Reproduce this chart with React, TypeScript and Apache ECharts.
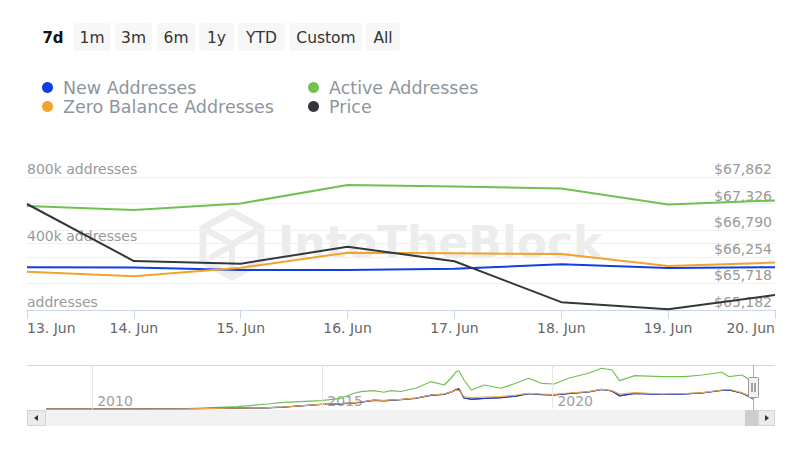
import React, { useEffect, useRef } from 'react';
import * as echarts from 'echarts';

const FONT = 'DejaVu Sans';

// Main chart (last 7 days)
const days = ['13. Jun', '14. Jun', '15. Jun', '16. Jun', '17. Jun', '18. Jun', '19. Jun', '20. Jun'];
const newAddresses = [257000, 256000, 241000, 241000, 248000, 275000, 253000, 257000];
const activeAddresses = [626000, 602000, 641000, 752000, 743000, 731000, 635000, 659000];
const zeroBalanceAddresses = [230000, 203000, 254000, 345000, 341000, 337000, 265000, 285000];
const price = [67318, 66169, 66115, 66457, 66165, 65340, 65195, 65484];

const addressTicks = [0, 400000, 800000];
const priceTicks = [65182, 65718, 66254, 66790, 67326, 67862];

const rangeButtons = ['7d', '1m', '3m', '6m', '1y', 'YTD', 'Custom', 'All'];

// Navigator (full history, decimal years; values in thousands of addresses, estimated)
const navYears = [
  2009.0, 2011.05, 2012.07, 2013.16, 2013.81, 2014.16, 2014.97, 2015.4, 2015.69, 2015.84,
  2016.12, 2016.34, 2016.49, 2016.71, 2017.04, 2017.36, 2017.65, 2017.8, 2017.91, 2017.97,
  2018.08, 2018.24, 2018.52, 2018.89, 2019.22, 2019.48, 2019.76, 2020.04, 2020.35, 2020.78,
  2021.07, 2021.29, 2021.46, 2021.79, 2022.38, 2022.88, 2023.25, 2023.68, 2023.84, 2024.12,
  2024.29, 2024.38,
];
const navActive = [
  0, 3, 13, 58, 125, 168, 208, 268, 393, 433, 458, 418, 458, 438, 525, 683, 600, 775, 933, 950,
  725, 475, 600, 518, 650, 768, 643, 625, 768, 893, 1018, 975, 708, 833, 808, 808, 850, 918, 808, 850,
  725, 750,
];
const navZero = [
  0, 0, 5, 25, 33, 50, 118, 138, 158, 175, 225, 213, 225, 243, 275, 350, 375, 425, 475, 463,
  308, 283, 300, 308, 350, 393, 375, 368, 400, 433, 493, 463, 375, 408, 375, 388, 408, 475, 493, 408,
  325, 250,
];
const navNew = [
  0, 0, 5, 25, 33, 50, 118, 135, 155, 170, 220, 208, 220, 238, 270, 345, 370, 420, 480, 500,
  268, 243, 263, 283, 325, 388, 363, 355, 388, 425, 488, 450, 325, 388, 363, 375, 400, 463, 475, 400,
  300, 238,
];
const navPrice = [
  0, 0, 4, 22, 30, 46, 112, 130, 150, 168, 215, 205, 218, 235, 268, 340, 365, 425, 490, 505,
  275, 248, 266, 285, 322, 385, 360, 352, 385, 428, 492, 455, 335, 390, 365, 378, 402, 468, 480, 395,
  305, 245,
];
const navYearLabels = [2010, 2015, 2020];
const navMin = 2008.584;
const navMax = 2024.837;

export default function App() {
  const ref = useRef<HTMLDivElement>(null);

  useEffect(() => {
    if (!ref.current) return;
    const chart = echarts.init(ref.current, undefined, { renderer: 'svg' });

    const btnBoxes: [number, number][] = [
      [0, 0], [74, 110], [115, 152], [157, 195], [199, 234], [238, 285], [290, 362], [366, 400],
    ];
    const graphics: any[] = [];
    rangeButtons.forEach((label, i) => {
      if (i === 0) {
        graphics.push({
          type: 'text', x: 53, y: 38, z: 10,
          style: { text: label, font: `bold 15px "${FONT}"`, fill: '#111', align: 'center', verticalAlign: 'middle', textAlign: 'center', textVerticalAlign: 'middle' },
        });
      } else {
        const [a, b] = btnBoxes[i];
        graphics.push({
          type: 'rect', z: 9,
          shape: { x: a, y: 23, width: b - a, height: 28, r: 2 },
          style: { fill: '#f7f7f7' },
        });
        graphics.push({
          type: 'text', x: (a + b) / 2, y: 38, z: 10,
          style: { text: label, font: `15.5px "${FONT}"`, fill: '#333', align: 'center', verticalAlign: 'middle', textAlign: 'center', textVerticalAlign: 'middle' },
        });
      }
    });

    // Watermark
    const wm = '#ececec';
    graphics.push({
      type: 'polygon', z: -1,
      shape: { points: [[232, 212], [261, 228], [261, 261], [232, 277], [203, 261], [203, 228]] },
      style: { fill: 'none', stroke: wm, lineWidth: 7 },
    });
    graphics.push({ type: 'polyline', z: -1, shape: { points: [[203, 228], [232, 244], [261, 228]] }, style: { fill: 'none', stroke: wm, lineWidth: 6 } });
    graphics.push({ type: 'polyline', z: -1, shape: { points: [[210, 258], [254, 232]] }, style: { fill: 'none', stroke: wm, lineWidth: 6 } });
    graphics.push({ type: 'polyline', z: -1, shape: { points: [[232, 244], [232, 277]] }, style: { fill: 'none', stroke: wm, lineWidth: 6 } });
    graphics.push({
      type: 'text', x: 278, y: 242, z: -1,
      style: { text: 'IntoTheBlock', font: `bold 44px "${FONT}"`, fill: wm, verticalAlign: 'middle', textVerticalAlign: 'middle' },
    });

    // Navigator frame
    graphics.push({ type: 'line', z: 5, shape: { x1: 27, y1: 365.5, x2: 775, y2: 365.5 }, style: { stroke: '#d6d6d6', lineWidth: 1 } });
    // Scrollbar
    graphics.push({ type: 'rect', z: 5, shape: { x: 27, y: 410, width: 748, height: 16 }, style: { fill: '#f2f2f2' } });
    graphics.push({ type: 'rect', z: 6, shape: { x: 27.5, y: 410.5, width: 18, height: 15 }, style: { fill: '#ebebeb', stroke: '#d4d4d4', lineWidth: 1 } });
    graphics.push({ type: 'polygon', z: 7, shape: { points: [[38, 415], [38, 421], [34, 418]] }, style: { fill: '#333' } });
    graphics.push({ type: 'rect', z: 6, shape: { x: 745, y: 410, width: 13, height: 16 }, style: { fill: '#cdcdcd' } });
    graphics.push({ type: 'rect', z: 6, shape: { x: 758.5, y: 410.5, width: 16, height: 15 }, style: { fill: '#ebebeb', stroke: '#d4d4d4', lineWidth: 1 } });
    graphics.push({ type: 'polygon', z: 7, shape: { points: [[765, 415], [765, 421], [769, 418]] }, style: { fill: '#333' } });
    // Navigator handle
    graphics.push({ type: 'line', z: 6, shape: { x1: 753.5, y1: 365, x2: 753.5, y2: 410 }, style: { stroke: '#b0b0b0', lineWidth: 1 } });
    graphics.push({ type: 'rect', z: 7, shape: { x: 748.5, y: 377.5, width: 10, height: 20, r: 1 }, style: { fill: '#f2f2f2', stroke: '#999', lineWidth: 1 } });
    graphics.push({ type: 'line', z: 8, shape: { x1: 752, y1: 383, x2: 752, y2: 392 }, style: { stroke: '#555', lineWidth: 1 } });
    graphics.push({ type: 'line', z: 8, shape: { x1: 755, y1: 383, x2: 755, y2: 392 }, style: { stroke: '#555', lineWidth: 1 } });

    const legendCommon = {
      orient: 'vertical',
      top: 73,
      icon: 'circle',
      itemWidth: 11,
      itemHeight: 11,
      itemGap: 0,
      selectedMode: false,
      textStyle: { fontFamily: FONT, fontSize: 17.5, color: '#8c969e', lineHeight: 19, padding: [0, 0, 0, 5] },
    };

    const navLine = (name: string, vals: number[], color: string, extra: any = {}) => ({
      name,
      type: 'line',
      xAxisIndex: 1,
      yAxisIndex: 2,
      data: navYears.map((y, i) => [y, vals[i]]),
      showSymbol: false,
      symbol: 'none',
      silent: true,
      lineStyle: { width: 1.2, color },
      itemStyle: { color },
      ...extra,
    });

    const option: any = {
      animation: false,
      backgroundColor: '#ffffff',
      textStyle: { fontFamily: FONT },
      graphic: { elements: graphics },
      legend: [
        { ...legendCommon, left: 37, data: ['New Addresses', 'Zero Balance Addresses'] },
        { ...legendCommon, left: 303, data: ['Active Addresses', 'Price'] },
      ],
      grid: [
        { left: 27, right: 25, top: 177, bottom: 150 },
        { left: 27, right: 25, top: 365, bottom: 51 },
      ],
      xAxis: [
        {
          type: 'category',
          gridIndex: 0,
          data: days,
          boundaryGap: false,
          axisLine: { lineStyle: { color: '#ccd6eb', width: 1 } },
          axisTick: { show: true, length: 9, lineStyle: { color: '#ccd6eb' } },
          axisLabel: {
            color: '#666', fontFamily: FONT, fontSize: 14, margin: 11, interval: 0,
            alignMinLabel: 'left', alignMaxLabel: 'right',
          },
          splitLine: { show: false },
        },
        {
          type: 'value',
          gridIndex: 1,
          min: navMin,
          max: navMax,
          axisLine: { show: false },
          axisTick: { show: false },
          splitLine: { show: false },
          axisLabel: {
            customValues: navYearLabels,
            inside: true,
            margin: 1,
            color: '#a0a0a0',
            fontFamily: FONT,
            fontSize: 14,
            align: 'left',
            padding: [0, 0, 0, 5],
            formatter: (v: number) => String(Math.round(v)),
          },
        },
      ],
      yAxis: [
        {
          type: 'value',
          gridIndex: 0,
          position: 'left',
          min: addressTicks[0],
          max: addressTicks[addressTicks.length - 1],
          interval: addressTicks[1] - addressTicks[0],
          axisLine: { show: false },
          axisTick: { show: false },
          splitLine: { lineStyle: { color: '#eeeeee' } },
          axisLabel: {
            inside: true, margin: 0, verticalAlign: 'bottom', padding: [0, 0, 1, 0],
            color: '#999', fontFamily: FONT, fontSize: 14,
            formatter: (v: number) => (v === 0 ? 'addresses' : `${Math.round(v / 1000)}k addresses`),
          },
        },
        {
          type: 'value',
          gridIndex: 0,
          position: 'right',
          min: priceTicks[0],
          max: priceTicks[priceTicks.length - 1],
          interval: priceTicks[1] - priceTicks[0],
          axisLine: { show: false },
          axisTick: { show: false },
          splitLine: { lineStyle: { color: '#f0f0f0' } },
          axisLabel: {
            inside: true, margin: 3, verticalAlign: 'bottom', padding: [0, 0, 1, 0],
            color: '#999', fontFamily: FONT, fontSize: 14,
            formatter: (v: number) => '$' + Math.round(v).toLocaleString('en-US'),
          },
        },
        { type: 'value', gridIndex: 1, min: 0, max: 1100, show: false },
      ],
      series: [
        {
          name: 'New Addresses', type: 'line', data: newAddresses, xAxisIndex: 0, yAxisIndex: 0,
          showSymbol: false, symbol: 'circle', color: '#0f3de6', lineStyle: { width: 2 }, silent: true,
        },
        {
          name: 'Active Addresses', type: 'line', data: activeAddresses, xAxisIndex: 0, yAxisIndex: 0,
          showSymbol: false, symbol: 'circle', color: '#6fc24f', lineStyle: { width: 2 }, silent: true,
        },
        {
          name: 'Zero Balance Addresses', type: 'line', data: zeroBalanceAddresses, xAxisIndex: 0, yAxisIndex: 0,
          showSymbol: false, symbol: 'circle', color: '#f2a22e', lineStyle: { width: 2 }, silent: true,
        },
        {
          name: 'Price', type: 'line', data: price, xAxisIndex: 0, yAxisIndex: 1,
          showSymbol: false, symbol: 'circle', color: '#33373c', lineStyle: { width: 2 }, silent: true,
        },
        navLine('nav-active', navActive, '#6fc24f', {
          markLine: {
            silent: true,
            symbol: 'none',
            label: { show: false },
            lineStyle: { color: '#e6e6e6', type: 'solid', width: 1 },
            data: navYearLabels.map((y) => ({ xAxis: y })),
          },
        }),
        navLine('nav-price', navPrice, '#3a3e44'),
        navLine('nav-new', navNew, '#1a3fe0'),
        navLine('nav-zero', navZero, '#f2a946'),
      ],
    };

    chart.setOption(option);
    return () => chart.dispose();
  }, []);

  return (
    <div
      ref={ref}
      style={{ position: 'absolute', left: 0, top: 0, width: 800, height: 460, background: '#fff' }}
    />
  );
}
